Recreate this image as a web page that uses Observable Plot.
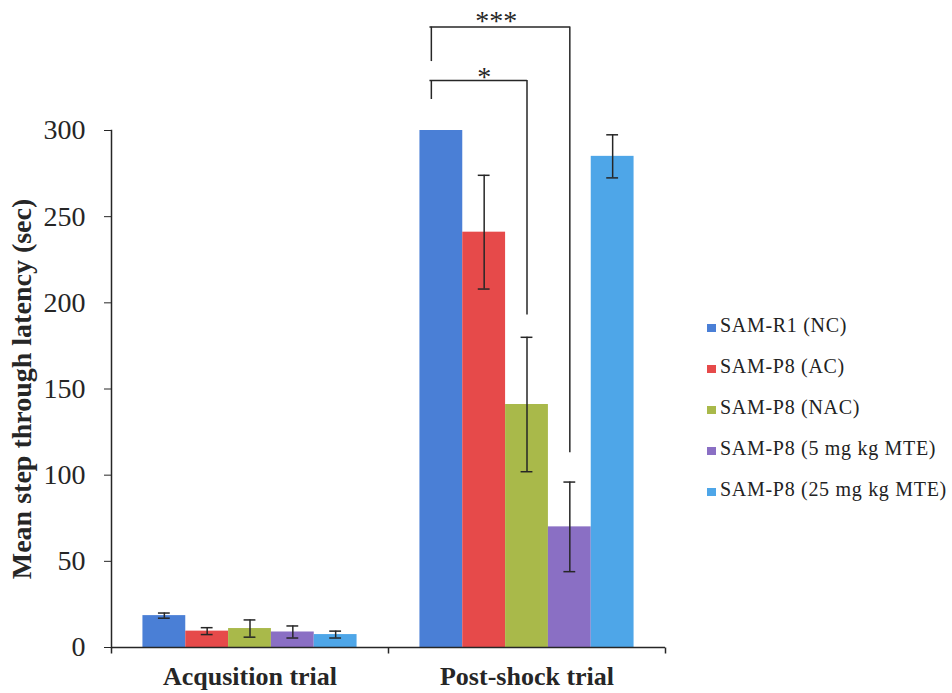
<!DOCTYPE html>
<html>
<head>
<meta charset="utf-8">
<script src="https://cdn.jsdelivr.net/npm/d3@7"></script>
<script src="https://cdn.jsdelivr.net/npm/@observablehq/plot@0.6"></script>
<style>
  body { margin: 0; background: #fff; }
  #wrap { position: relative; width: 952px; height: 693px; }
  #chart { position: absolute; left: 0; top: 0; }
  #legend { position: absolute; left: 707px; top: 314px; }
  .item { height: 41px; display: flex; align-items: flex-start; font-family: "Liberation Serif", "Times New Roman", serif; font-size: 20px; letter-spacing: 0.7px; color: #222; white-space: nowrap; }
  .sw { width: 9px; height: 8px; margin: 10px 4px 0 0; flex: none; }
</style>
</head>
<body>
<div id="wrap"><div id="chart"></div><div id="legend"></div></div>
<script>
// Trials (facets) and treatment groups (bars within each trial)
const groups = ["Acqusition trial", "Post-shock trial"];
const series = ["SAM-R1 (NC)", "SAM-P8 (AC)", "SAM-P8 (NAC)", "SAM-P8 (5 mg kg MTE)", "SAM-P8 (25 mg kg MTE)"];
const colors = ["#4a7fd6", "#e64a4a", "#a9b94a", "#8a6fc4", "#4ea6e8"];

// Mean latency (sec) and error for each treatment
const acquisitionMeans = [18.5, 9.5, 11, 9, 7.5];
const acquisitionErrors = [1.5, 2, 5, 3.5, 2];
const postShockMeans = [300, 241, 141, 70, 285];
const postShockErrors = [0, 33, 39, 26, 12.5];

const yTicks = [0, 50, 100, 150, 200, 250, 300];
const yLabel = "Mean step through latency (sec)";

// Significance brackets in the post-shock trial
const bracketLabels = ["*", "***"];
const bracketFrom = [series[0], series[0]];
const bracketTo = [series[2], series[3]];
const bracketTop = [329, 360];
const bracketLeftEnd = [318, 340];
const bracketRightEnd = [193, 113];

const rows = [];
[acquisitionMeans, postShockMeans].forEach((means, gi) => {
  const errs = gi === 0 ? acquisitionErrors : postShockErrors;
  series.forEach((s, i) => rows.push({group: groups[gi], series: s, value: means[i], err: errs[i]}));
});
const errRows = rows.filter(d => d.err > 0);
const brackets = bracketLabels.map((label, i) => ({
  group: groups[1], label, from: bracketFrom[i], to: bracketTo[i],
  top: bracketTop[i], leftEnd: bracketLeftEnd[i], rightEnd: bracketRightEnd[i]
}));

// Short downward tick used at the category boundaries of the x axis
const tickDown = {draw(context) { context.moveTo(0, 0); context.lineTo(0, 6); }};
const ink = "#262626";

const plot = Plot.plot({
  width: 680,
  height: 693,
  marginLeft: 110,
  marginRight: 15,
  marginTop: 130,
  marginBottom: 46,
  style: {fontFamily: '"Liberation Serif", "Times New Roman", serif', color: ink, background: "#fff"},
  fx: {domain: groups, padding: 0},
  x: {domain: series, paddingInner: 0, paddingOuter: 0.734, round: false, axis: null},
  y: {domain: [0, 300]},
  color: {domain: series, range: colors},
  marks: [
    Plot.barY(rows, {fx: "group", x: "series", y: "value", fill: "series"}),
    Plot.ruleX(errRows, {fx: "group", x: "series", y1: d => d.value - d.err, y2: d => d.value + d.err, stroke: ink, strokeWidth: 1.5}),
    Plot.tickY(errRows, {fx: "group", x: "series", y: d => d.value - d.err, stroke: ink, strokeWidth: 1.5, insetLeft: 15.5, insetRight: 15.5}),
    Plot.tickY(errRows, {fx: "group", x: "series", y: d => d.value + d.err, stroke: ink, strokeWidth: 1.5, insetLeft: 15.5, insetRight: 15.5}),
    // significance brackets
    Plot.ruleY(brackets, {fx: "group", x1: "from", x2: "to", y: "top", stroke: ink, strokeWidth: 1.5, insetLeft: 10, insetRight: 21}),
    Plot.ruleX(brackets, {fx: "group", x: "from", y1: "leftEnd", y2: "top", stroke: ink, strokeWidth: 1.5, dx: -10}),
    Plot.ruleX(brackets, {fx: "group", x: "to", y1: "rightEnd", y2: "top", stroke: ink, strokeWidth: 1.5}),
    Plot.text(brackets.slice(0, 1), {fx: "group", x: () => series[1], y: "top", text: "label", fontSize: 28, lineAnchor: "bottom", dy: 5, fill: ink}),
    Plot.text(brackets.slice(1), {fx: "group", x: () => series[1], y: "top", text: "label", fontSize: 28, lineAnchor: "bottom", dy: 3, dx: 12, fill: ink}),
    // axes
    Plot.ruleY([0], {stroke: ink, strokeWidth: 1.5}),
    Plot.frame({anchor: "left", fx: groups[0], stroke: ink, strokeWidth: 1.5}),
    Plot.dot([0], {frameAnchor: "bottom-right", symbol: tickDown, stroke: ink, strokeWidth: 1.5}),
    Plot.dot([groups[0]], {fx: d => d, frameAnchor: "bottom-left", symbol: tickDown, stroke: ink, strokeWidth: 1.5}),
    Plot.axisY({ticks: yTicks, tickSize: 7, tickPadding: 19, fontSize: 28, label: yLabel, labelArrow: "none", labelAnchor: "center", labelOffset: 100, stroke: ink}),
    Plot.axisFx({anchor: "bottom", tickSize: 0, tickPadding: 19, fontSize: 26, fontWeight: "bold", label: null})
  ]
});

// y label in bold, like the trial names
const yl = plot.querySelector('[aria-label="y-axis label"] text');
if (yl) { yl.textContent = yLabel; yl.setAttribute("font-weight", "bold"); yl.setAttribute("font-size", "28"); }

document.getElementById("chart").append(plot);

// legend
const legend = document.getElementById("legend");
series.forEach((s, i) => {
  const item = document.createElement("div");
  item.className = "item";
  const sw = document.createElement("span");
  sw.className = "sw";
  sw.style.background = colors[i];
  item.append(sw, document.createTextNode(s));
  legend.append(item);
});
</script>
</body>
</html>
